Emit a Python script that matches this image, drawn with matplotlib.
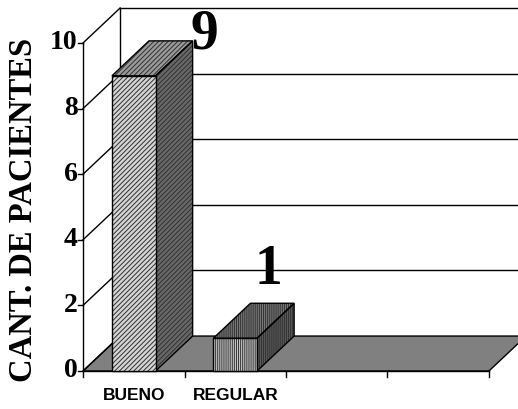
import matplotlib.pyplot as plt
from matplotlib.patches import Polygon

categories = ["BUENO", "REGULAR", "", ""]
values = [9, 1]
yticks = [0, 2, 4, 6, 8, 10]

# 3D look: depth offset of the back wall (x in category units, y in value units)
DX, DY = 0.365, 1.065
BAR_W = 0.43
XMIN, XMAX = -0.818, 4.286
YMIN, YMAX = -1.159, 11.311

serif = "Liberation Serif"
sans = "Liberation Sans"

fig = plt.figure(figsize=(5.18, 4.09), dpi=100)
ax = fig.add_axes([0, 0, 1, 1])
ax.set_xlim(XMIN, XMAX)
ax.set_ylim(YMIN, YMAX)
ax.axis("off")

ncat = len(categories)
top = yticks[-1]

# floor
floor = Polygon([(0, 0), (ncat, 0), (ncat + DX, DY), (DX, DY)], closed=True,
                facecolor="#808080", edgecolor="black", lw=1, zorder=1)
ax.add_patch(floor)

# back wall: left edge, top edge and gridlines
ax.plot([DX, DX], [DY, top + DY], color="black", lw=1, zorder=1)
for v in yticks[1:]:
    ax.plot([DX, XMAX + 1], [v + DY, v + DY], color="black", lw=1, zorder=1)
# side wall: diagonals from the front axis to the back wall
for v in yticks:
    ax.plot([0, DX], [v, v + DY], color="black", lw=1, zorder=1)

# front value axis with ticks and labels
ax.plot([0, 0], [-0.18, top], color="black", lw=1, zorder=2)
for v in yticks:
    ax.plot([-0.05, 0], [v, v], color="black", lw=1, zorder=2)
    ax.text(-0.055, v, str(v), ha="right", va="center", fontsize=20,
            fontweight="bold", family=serif)

# category axis
ax.plot([0, ncat], [0, 0], color="black", lw=1, zorder=2)
for i in range(1, ncat + 1):
    ax.plot([i, i], [0, -0.18], color="black", lw=1, zorder=2)
for i, c in enumerate(categories):
    ax.text(i + 0.5, -0.76, c, ha="center", va="center", fontsize=12.5,
            fontweight="bold", family=sans)

ax.text(-0.59, 4.91, "CANT. DE PACIENTES", rotation=90, ha="center", va="center",
        fontsize=23.5, fontweight="bold", family=serif)

# face colours and hatch patterns for each bar
styles = [
    {"hatch": "///////", "front": "#d4d4d4", "side": "#686868", "top": "#9a9a9a"},
    {"hatch": "||||||||", "front": "#c8c8c8", "side": "#5a5a5a", "top": "#7a7a7a"},
]

plt.rcParams["hatch.linewidth"] = 0.7


def face(pts, color, hatch, z):
    ax.add_patch(Polygon(pts, closed=True, facecolor=color, edgecolor="#303030",
                         lw=0, hatch=hatch, zorder=z))
    ax.add_patch(Polygon(pts, closed=True, facecolor="none", edgecolor="black",
                         lw=1, zorder=z + 0.1))


for i, (v, st) in enumerate(zip(values, styles)):
    x0 = i + 0.5 - BAR_W / 2
    x1 = i + 0.5 + BAR_W / 2
    z = 3 + i
    face([(x1, 0), (x1 + DX, DY), (x1 + DX, v + DY), (x1, v)], st["side"], st["hatch"], z)
    face([(x0, v), (x1, v), (x1 + DX, v + DY), (x0 + DX, v + DY)], st["top"], st["hatch"], z)
    face([(x0, 0), (x1, 0), (x1, v), (x0, v)], st["front"], st["hatch"], z + 0.2)

    # value label above the bar, moved beside it when it would leave the wall
    ly = v + DY + 1.0
    lx = i + 0.5 + DX * 0.9
    if ly > top + DY - 0.5:
        ly = v + DY + 0.2
        lx = x1 + DX + 0.12
    ax.text(lx, ly, str(v), ha="center", va="center", fontsize=40,
            fontweight="bold", family=serif, zorder=10)

fig.savefig("out.png", dpi=100)
